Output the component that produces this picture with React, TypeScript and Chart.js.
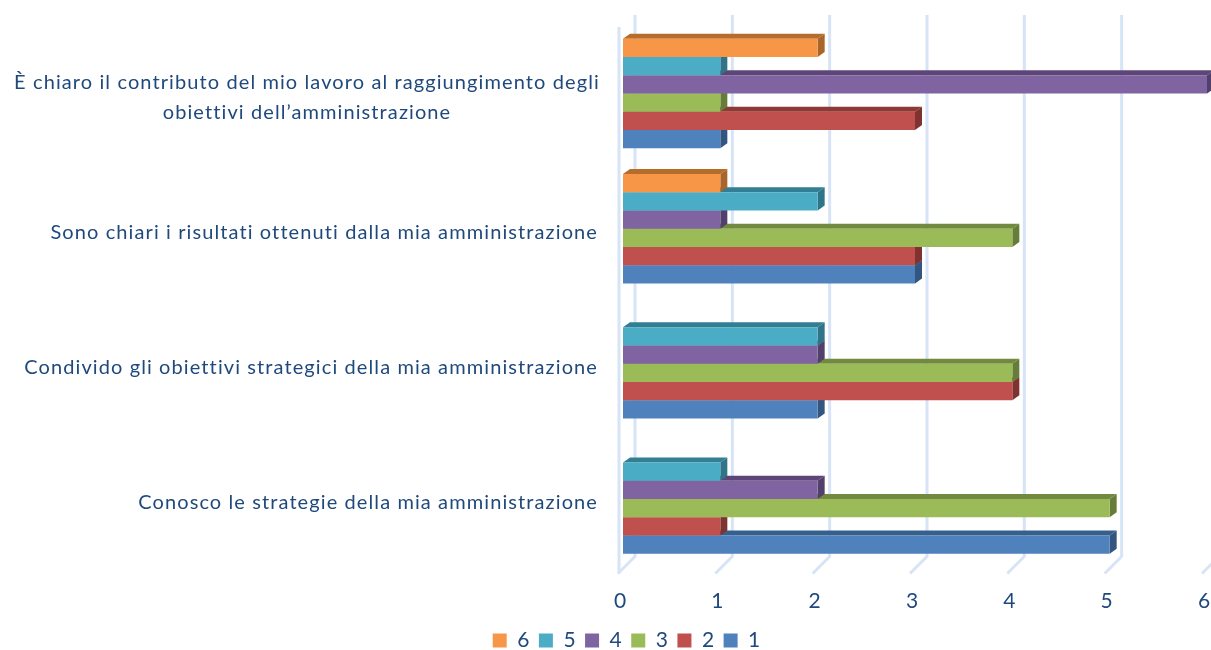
import React, { useEffect, useRef } from "react";
import { Chart, registerables } from "chart.js";

Chart.register(...registerables);

const categories: string[][] = [
  ["È chiaro il contributo del mio lavoro al raggiungimento degli", "obiettivi dell’amministrazione"],
  ["Sono chiari i risultati ottenuti dalla mia amministrazione"],
  ["Condivido gli obiettivi strategici della mia amministrazione"],
  ["Conosco le strategie della mia amministrazione"],
];
const series6 = [2, 1, 0, 0];
const series5 = [1, 2, 2, 1];
const series4 = [6, 1, 2, 2];
const series3 = [1, 4, 4, 5];
const series2 = [3, 3, 4, 1];
const series1 = [1, 3, 2, 5];
const seriesNames = ["6", "5", "4", "3", "2", "1"];
const seriesValues = [series6, series5, series4, series3, series2, series1];
const seriesColors = ["#f79646", "#4bacc6", "#8064a2", "#9bbb59", "#c0504d", "#4f81bd"];
const topColors = ["#b66d2c", "#327f94", "#5c4678", "#718a3f", "#8e3936", "#375f8e"];
const sideColors = ["#a9652a", "#2f7488", "#52406c", "#667d39", "#7f3330", "#325680"];
const xTicks = [0, 1, 2, 3, 4, 5, 6];

const TEXT = "#1f497d";
const GRID = "#d7e4f6";
const FONT = "Lato";

const depth3d = {
  id: "depth3d",
  afterLayout(chart: any) {
    chart.legend.top += 11;
    chart.legend.bottom += 11;
  },
  beforeDraw(chart: any) {
    const { ctx, chartArea, scales } = chart;
    const x = scales.x;
    ctx.save();
    ctx.strokeStyle = GRID;
    ctx.lineWidth = 3;
    for (const v of xTicks) {
      const px = x.getPixelForValue(v) + 12;
      ctx.beginPath();
      ctx.moveTo(px, 15);
      ctx.lineTo(px, chartArea.bottom - 10);
      ctx.lineTo(px - 17, chartArea.bottom + 7);
      ctx.stroke();
    }
    const left = x.getPixelForValue(0) - 4;
    ctx.beginPath();
    ctx.moveTo(left, 27);
    ctx.lineTo(left, chartArea.bottom + 7);
    ctx.stroke();
    ctx.restore();
  },
  beforeDatasetDraw(chart: any, args: any) {
    const { ctx } = chart;
    const dx = 7;
    const dy = 5;
    const meta = chart.getDatasetMeta(args.index);
    ctx.save();
    meta.data.forEach((bar: any, i: number) => {
      if (!seriesValues[args.index][i]) return;
      const h = bar.height / 2;
      const l = bar.base;
      const r = bar.x;
      const t = bar.y - h;
      const b = bar.y + h;
      ctx.fillStyle = topColors[args.index];
      ctx.beginPath();
      ctx.moveTo(l, t);
      ctx.lineTo(l + dx, t - dy);
      ctx.lineTo(r + dx, t - dy);
      ctx.lineTo(r, t);
      ctx.closePath();
      ctx.fill();
      ctx.fillStyle = sideColors[args.index];
      ctx.beginPath();
      ctx.moveTo(r, t);
      ctx.lineTo(r + dx, t - dy);
      ctx.lineTo(r + dx, b - dy);
      ctx.lineTo(r, b);
      ctx.closePath();
      ctx.fill();
    });
    ctx.restore();
  },
  afterDraw(chart: any) {
    const { ctx, scales } = chart;
    const y = scales.y;
    ctx.save();
    ctx.fillStyle = TEXT;
    ctx.font = `20px ${FONT}`;
    ctx.textBaseline = "middle";
    (ctx as any).letterSpacing = "1.1px";
    categories.forEach((lines, i) => {
      const cy = y.getPixelForTick(i) + 4;
      if (lines.length > 1) {
        ctx.textAlign = "center";
        lines.forEach((ln, k) => ctx.fillText(ln, 307, cy + (k - (lines.length - 1) / 2) * 30));
      } else {
        ctx.textAlign = "right";
        ctx.fillText(lines[0], 598, cy);
      }
    });
    ctx.restore();
  },
};

export default function App() {
  const ref = useRef<HTMLCanvasElement>(null);
  useEffect(() => {
    document.body.style.margin = "0";
    const chart = new Chart(ref.current!, {
      type: "bar",
      data: {
        labels: categories.map((c) => c.join(" ")),
        datasets: seriesNames.map((name, i) => ({
          label: name,
          data: seriesValues[i],
          backgroundColor: seriesColors[i],
          borderWidth: 0,
          categoryPercentage: 0.81,
          barPercentage: 1,
        })),
      },
      options: {
        indexAxis: "y",
        animation: false,
        responsive: false,
        layout: { autoPadding: false, padding: { top: 26, left: 46, right: 4, bottom: 0 } },
        plugins: {
          tooltip: { enabled: false },
          legend: {
            position: "bottom",
            labels: {
              boxWidth: 14,
              boxHeight: 14,
              padding: 9.5,
              color: TEXT,
              font: { family: FONT, size: 21 },
            },
          },
        },
        scales: {
          x: {
            min: 0,
            max: 6,
            grid: { display: false },
            border: { display: false },
            afterFit: (s: any) => {
              s.height = 43;
              s.paddingLeft = 0;
              s.paddingRight = 0;
            },
            ticks: {
              stepSize: 1,
              color: TEXT,
              font: { family: FONT, size: 21 },
              labelOffset: -3,
              padding: 14,
              maxRotation: 0,
            },
          },
          y: {
            grid: { display: false },
            border: { display: false },
            ticks: { display: false },
            afterFit: (s: any) => {
              s.width = 577;
            },
          },
        },
      },
      plugins: [depth3d],
    } as any);
    return () => chart.destroy();
  }, []);
  return <canvas ref={ref} width={1211} height={650} style={{ display: "block" }} />;
}
